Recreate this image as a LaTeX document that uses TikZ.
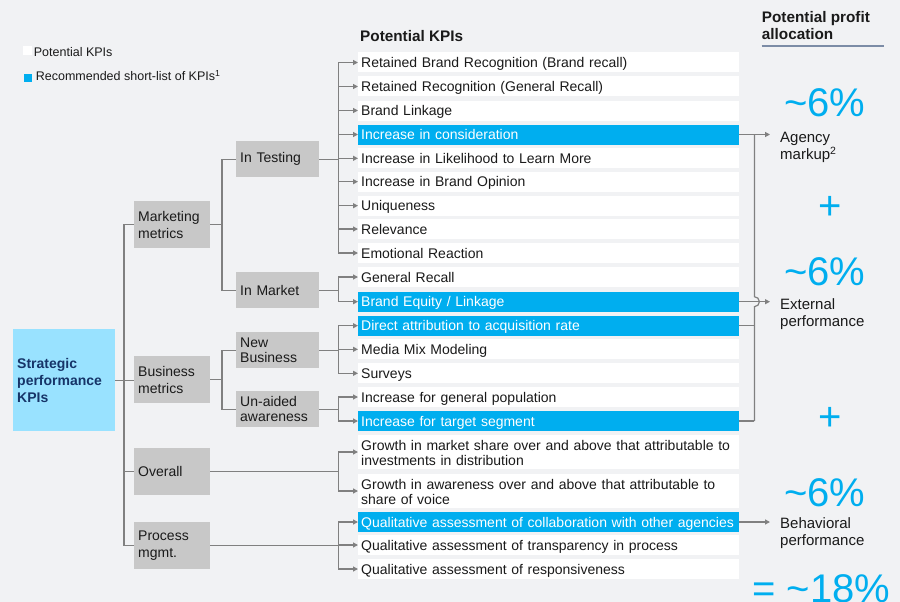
\documentclass[tikz,border=0pt]{standalone}
\usepackage{fontspec}
\setmainfont{Liberation Sans}
\usetikzlibrary{arrows.meta,calc}

\definecolor{bgcol}{RGB}{241,242,244}
\definecolor{hlblue}{RGB}{0,174,239}
\definecolor{boxgray}{RGB}{200,200,200}
\definecolor{stratblue}{RGB}{153,226,255}
\definecolor{navy}{RGB}{22,52,104}
\definecolor{linegray}{RGB}{128,128,128}
\definecolor{slate}{RGB}{124,140,166}
\definecolor{ink}{RGB}{26,26,26}

\begin{document}
\begin{tikzpicture}[x=1pt,y=-1pt,
  conn/.style={draw=linegray,line width=1.2pt},
  arr/.style={conn,-{Triangle[length=5pt,width=5pt]}},
  kpi/.style={fill=white,anchor=west,text width=375pt,inner xsep=3pt,inner ysep=0pt,
    minimum height=20pt,align=left,text=ink,font=\fontsize{14}{16}\selectfont,
    text height=11pt,text depth=1pt},
  kpitwo/.style={kpi,minimum height=34pt,text depth=15pt,font=\fontsize{14}{15}\selectfont},
  pick/.style={fill=hlblue,text=white},
  lvltwo/.style={fill=boxgray,anchor=north west,text width=68pt,inner sep=4pt,
    minimum height=47pt,align=left,text=ink,font=\fontsize{14}{17}\selectfont},
  lvlthree/.style={lvltwo,text width=75pt,minimum height=36pt,font=\fontsize{14}{15.5}\selectfont},
  big/.style={anchor=base west,inner sep=0pt,text=hlblue,font=\fontsize{40}{40}\selectfont},
  result/.style={anchor=base west,inner sep=0pt,inner xsep=10pt,align=left,text=ink,
    font=\fontsize{15}{17.5}\selectfont},
  head/.style={anchor=base west,inner sep=0pt,align=left,text=ink,
    font=\bfseries\fontsize{15.3}{16.6}\selectfont},
  legtext/.style={anchor=base west,inner sep=0pt,text=ink,font=\fontsize{12.5}{14}\selectfont}]
\useasboundingbox (0,0) rectangle (900,602);
\clip (0,0) rectangle (900,602);
\fill[bgcol] (0,0) rectangle (900,602);

% legend and headings
\node[fill=white,minimum size=9pt,inner sep=0pt,anchor=north west] (legw) at (23,46) {};
\node[legtext] (legwt) at (33.7,56.7) {Potential KPIs};
\node[fill=hlblue,minimum size=8pt,inner sep=0pt,anchor=north west] (legb) at (24,74.3) {};
\node[legtext] (legbt) at (35.7,81) {Recommended short-list of KPIs\textsuperscript{1}};
\node[head] (hkpi) at (360,41.7) {Potential KPIs};
\node[head] (hprofit) at (761.7,39.3) {Potential profit\\allocation};
\draw[slate,line width=2pt] (761.7,45.7) -- (884,45.7);

% the tree
\node[fill=stratblue,anchor=north west,text width=94pt,inner sep=4pt,minimum height=102pt,
  align=left,text=navy,font=\bfseries\fontsize{14}{17}\selectfont] (strat) at (13,329)
  {Strategic\\performance\\KPIs};
\node[lvltwo] (mkt) at (134,201) {Marketing\\metrics};
\node[lvltwo] (biz) at (134,356) {Business\\metrics};
\node[lvltwo] (ovr) at (134,448) {Overall};
\node[lvltwo] (proc) at (134,522) {Process\\mgmt.};
\node[lvlthree] (test) at (236,141) {In Testing};
\node[lvlthree] (inmkt) at (236,272) {In Market};
\node[lvlthree] (newb) at (236,332) {New\\Business};
\node[lvlthree] (unaid) at (236,391) {Un-aided\\awareness};

\node[kpi] (r1) at (358,62.5) {Retained Brand Recognition (Brand recall)};
\node[kpi] (r2) at (358,86.5) {Retained Recognition (General Recall)};
\node[kpi] (r3) at (358,110.5) {Brand Linkage};
\node[kpi,pick] (r4) at (358,134.5) {Increase in consideration};
\node[kpi] (r5) at (358,158.3) {Increase in Likelihood to Learn More};
\node[kpi] (r6) at (358,181.7) {Increase in Brand Opinion};
\node[kpi] (r7) at (358,205.7) {Uniqueness};
\node[kpi] (r8) at (358,229) {Relevance};
\node[kpi] (r9) at (358,253) {Emotional Reaction};
\node[kpi] (r10) at (358,277) {General Recall};
\node[kpi,pick] (r11) at (358,301.7) {Brand Equity / Linkage};
\node[kpi,pick] (r12) at (358,325.7) {Direct attribution to acquisition rate};
\node[kpi] (r13) at (358,349.3) {Media Mix Modeling};
\node[kpi] (r14) at (358,373.3) {Surveys};
\node[kpi] (r15) at (358,397) {Increase for general population};
\node[kpi,pick] (r16) at (358,421) {Increase for target segment};
\node[kpitwo] (r17) at (358,452) {Growth in market share over and above that attributable to\\investments in distribution};
\node[kpitwo] (r18) at (358,491) {Growth in awareness over and above that attributable to\\share of voice};
\node[kpi,pick] (r19) at (358,522) {Qualitative assessment of collaboration with other agencies};
\node[kpi] (r20) at (358,545) {Qualitative assessment of transparency in process};
\node[kpi] (r21) at (358,569) {Qualitative assessment of responsiveness};

\draw[conn] (strat.east) -| ([xshift=-10pt]mkt.west) -- (mkt.west);
\draw[conn] (strat.east) -- (strat.east -| biz.west);
\draw[conn] (strat.east) -| ([xshift=-10pt]ovr.west) -- (ovr.west);
\draw[conn] (strat.east) -| ([xshift=-10pt]proc.west) -- (proc.west);
\draw[conn] (mkt.east) -| ([xshift=-14pt]test.west) -- (test.west);
\draw[conn] (mkt.east) -| ([xshift=-14pt]inmkt.west) -- (inmkt.west);
\draw[conn] (biz.east) -| ([xshift=-14pt]newb.west) -- (newb.west);
\draw[conn] (biz.east) -| ([xshift=-14pt]unaid.west) -- (unaid.west);

\draw[arr] (test.east) -| ([xshift=-19.5pt]r1.west) -- (r1.west);
\draw[arr] (test.east) -| ([xshift=-19.5pt]r2.west) -- (r2.west);
\draw[arr] (test.east) -| ([xshift=-19.5pt]r3.west) -- (r3.west);
\draw[arr] (test.east) -| ([xshift=-19.5pt]r4.west) -- (r4.west);
\draw[arr] (test.east) -| ([xshift=-19.5pt]r5.west) -- (r5.west);
\draw[arr] (test.east) -| ([xshift=-19.5pt]r6.west) -- (r6.west);
\draw[arr] (test.east) -| ([xshift=-19.5pt]r7.west) -- (r7.west);
\draw[arr] (test.east) -| ([xshift=-19.5pt]r8.west) -- (r8.west);
\draw[arr] (test.east) -| ([xshift=-19.5pt]r9.west) -- (r9.west);
\draw[arr] (inmkt.east) -| ([xshift=-19.5pt]r10.west) -- (r10.west);
\draw[arr] (inmkt.east) -| ([xshift=-19.5pt]r11.west) -- (r11.west);
\draw[arr] (newb.east) -| ([xshift=-19.5pt]r12.west) -- (r12.west);
\draw[arr] (newb.east) -| ([xshift=-19.5pt]r13.west) -- (r13.west);
\draw[arr] (newb.east) -| ([xshift=-19.5pt]r14.west) -- (r14.west);
\draw[arr] (unaid.east) -| ([xshift=-19.5pt]r15.west) -- (r15.west);
\draw[arr] (unaid.east) -| ([xshift=-19.5pt]r16.west) -- (r16.west);
\draw[arr] (ovr.east) -| ([xshift=-19.5pt]r17.west) -- (r17.west);
\draw[arr] (ovr.east) -| ([xshift=-19.5pt]r18.west) -- (r18.west);
\draw[arr] (proc.east) -| ([xshift=-19.5pt]r19.west) -- (r19.west);
\draw[arr] (proc.east) -| ([xshift=-19.5pt]r20.west) -- (r20.west);
\draw[arr] (proc.east) -| ([xshift=-19.5pt]r21.west) -- (r21.west);

% profit allocation
\node[big] (pct1) at (784,117) {\textasciitilde 6\%};
\node[big] (plus1) at (818,219) {+};
\node[big] (pct2) at (784,285) {\textasciitilde 6\%};
\node[big] (plus2) at (818,430) {+};
\node[big] (pct3) at (784,506) {\textasciitilde 6\%};
\node[big] (total) at (752,602) {= \textasciitilde 18\%};
\node[result] (agency) at (770,159.5) {Agency\\markup\textsuperscript{2}};
\node[result] (ext) at (770,326.5) {External\\performance};
\node[result] (behav) at (770,545.5) {Behavioral\\performance};

\coordinate (jmp) at ($(r4.east)+(15,0)$);
\draw[arr] (r4.east) -- (r4.east -| agency.west);
\draw[conn] (jmp) -- ($(jmp |- r11.east)+(0,-5)$) arc[start angle=-90,end angle=90,radius=5] -- (jmp |- r16.east);
\draw[conn] (r12.east) -- (r12.east -| jmp);
\draw[conn] (r16.east) -- (r16.east -| jmp);
\draw[arr] (r11.east) -- (r11.east -| ext.west);
\draw[arr] (r19.east) -- (r19.east -| behav.west);
\end{tikzpicture}
\end{document}
